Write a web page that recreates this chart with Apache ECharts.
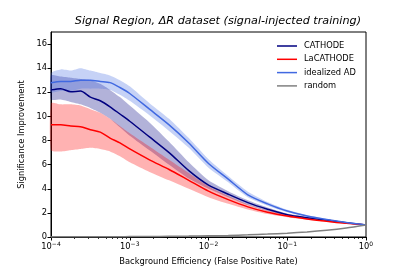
<!DOCTYPE html>
<html><head><meta charset="utf-8">
<script src="https://cdn.jsdelivr.net/npm/echarts@6/dist/echarts.min.js"></script>
<style>html,body{margin:0;padding:0;background:#fff}#c{width:407px;height:271px}</style>
</head><body><div id="c"></div>
<script>
// Background efficiency (x)
const xs = [1e-4, 1.33e-4, 1.78e-4, 2.37e-4, 3.16e-4, 4.22e-4, 5.62e-4, 7.5e-4, 1e-3, 1.78e-3, 3.16e-3, 5.62e-3, 1e-2, 1.78e-2, 3.16e-2, 5.62e-2, 0.1, 0.178, 0.316, 0.562, 1];
const cathode   = [12.2,12.3,12.05,12.1,11.6,11.3,10.8,10.2,9.6,8.3,7.0,5.5,4.3,3.55,2.85,2.3,1.85,1.6,1.4,1.18,1.0];
const cathodeHi = [13.4,13.3,13.2,13.1,13.0,12.7,12.2,11.6,10.9,9.5,7.9,6.2,4.7,3.8,3.05,2.45,1.95,1.68,1.45,1.22,1.0];
const cathodeLo = [11.4,11.4,11.2,11.0,10.7,10.3,9.8,9.1,8.4,7.2,6.0,4.85,4.0,3.3,2.65,2.15,1.75,1.52,1.35,1.14,1.0];
const lacathode = [9.3,9.3,9.2,9.15,8.9,8.7,8.2,7.8,7.3,6.4,5.6,4.7,3.8,3.1,2.5,2.05,1.74,1.5,1.3,1.13,1.0];
const laHi      = [11.1,11.0,11.0,10.9,10.6,10.3,9.8,9.2,8.6,7.5,6.4,5.3,4.2,3.4,2.7,2.2,1.84,1.57,1.35,1.16,1.0];
const laLo      = [7.2,7.1,7.2,7.3,7.4,7.3,7.1,6.7,6.2,5.4,4.7,4.0,3.3,2.75,2.28,1.9,1.64,1.43,1.26,1.1,1.0];
const ideal     = [12.8,12.9,12.9,13.0,13.0,12.9,12.8,12.4,11.9,10.6,9.3,7.8,6.1,4.8,3.5,2.75,2.15,1.75,1.45,1.2,1.0];
const idealHi   = [13.6,13.9,13.8,14.0,13.8,13.6,13.4,13.0,12.5,11.1,9.8,8.2,6.45,5.05,3.75,2.9,2.25,1.82,1.5,1.23,1.0];
const idealLo   = [12.0,12.1,12.1,12.3,12.3,12.3,12.2,11.8,11.3,10.1,8.8,7.4,5.75,4.55,3.3,2.6,2.05,1.68,1.4,1.17,1.0];
const random    = [0.010,0.012,0.013,0.015,0.018,0.021,0.024,0.027,0.032,0.042,0.056,0.075,0.10,0.13,0.18,0.24,0.32,0.42,0.56,0.75,1.0];
const xMajorTicks = [1e-4, 1e-3, 1e-2, 1e-1, 1];
const xMinorTicks = [2e-4,3e-4,4e-4,5e-4,6e-4,7e-4,8e-4,9e-4,2e-3,3e-3,4e-3,5e-3,6e-3,7e-3,8e-3,9e-3,2e-2,3e-2,4e-2,5e-2,6e-2,7e-2,8e-2,9e-2,0.2,0.3,0.4,0.5,0.6,0.7,0.8,0.9];
const yTicks = [0,2,4,6,8,10,12,14,16];
const names = ['CATHODE','LaCATHODE','idealized AD','random'];
const colors = ['#000080','#ff0000','#4169e1','#808080'];
const bandColors = ['rgba(0,0,128,0.3)','rgba(255,0,0,0.3)','rgba(65,105,225,0.3)'];

const FONT = 'DejaVu Sans';
const pair = (arr) => xs.map((x,i)=>[x,arr[i]]);

function band(idx, hi, lo){
  const data = xs.map((x,i)=>[x, hi[i], lo[i]]);
  return {type:'custom', silent:true, z:1, data:data, encode:{x:0, y:[1,2]},
    renderItem:function(params, api){
      if (params.dataIndex !== 0) return null;
      const up = data.map(d=>api.coord([d[0], d[1]]));
      const dn = data.map(d=>api.coord([d[0], d[2]]));
      return {type:'group', children:[
        {type:'polyline', shape:{points:up, smooth:0.25}, style:{fill:null, stroke:null}, invisible:true},
        {type:'polygon', shape:{points:up.concat(dn.slice().reverse()), smooth:0.2}, style:{fill:bandColors[idx], stroke:null}}
      ]};
    }};
}
function line(idx, arr){
  return {name:names[idx], type:'line', data:pair(arr), smooth:0.25, showSymbol:false, lineStyle:{color:colors[idx], width:1.5}, itemStyle:{color:colors[idx]}, z:3};
}
const supLabel = v => { const e = Math.round(Math.log10(v)); return '10{s|' + (e<0 ? '\u2212'+(-e) : e) + '}'; };

const chart = echarts.init(document.getElementById('c'), null, {renderer:'canvas'});
chart.setOption({
  animation:false,
  textStyle:{fontFamily:FONT},
  title:{text:'Signal Region, \u0394R dataset (signal-injected training)', right:41, top:11,
    textStyle:{fontFamily:FONT, fontStyle:'italic', fontWeight:'normal', fontSize:11.2, color:'#000'}},
  grid:{left:51, right:41, top:32, bottom:34, show:true, borderColor:'#000', borderWidth:1, backgroundColor:'transparent'},
  legend:{data:names.map((n,i)=>({name:n, icon:'rect', itemStyle:{color:colors[i]}})), orient:'vertical', left:272, top:37,
    itemWidth:20, itemHeight:1.5, itemGap:5.3, textStyle:{fontFamily:FONT, fontSize:8.3, color:'#000', padding:[0,0,0,2]}},
  xAxis:[
    {type:'log', logBase:10, min:1e-4, max:1, gridIndex:0,
      axisLine:{show:true, lineStyle:{color:'#000', width:1}},
      axisTick:{show:true, length:3.5, lineStyle:{color:'#000'}, customValues:xMajorTicks},
      axisLabel:{color:'#000', fontFamily:FONT, fontSize:8.3, margin:4, customValues:xMajorTicks, formatter:supLabel,
        rich:{s:{fontSize:6, fontFamily:FONT, color:'#000', padding:[0,0,5,0]}}},
      splitLine:{show:false},
      name:'Background Efficiency (False Positive Rate)', nameLocation:'middle', nameGap:21,
      nameTextStyle:{fontFamily:FONT, fontSize:8.3, color:'#000'}},
    {type:'log', logBase:10, min:1e-4, max:1, gridIndex:0, position:'bottom',
      axisLine:{show:false}, axisLabel:{show:false}, splitLine:{show:false},
      axisTick:{show:true, length:2, lineStyle:{color:'#000', width:0.8}, customValues:xMinorTicks}}
  ],
  yAxis:{type:'value', min:0, max:17, interval:2,
    axisLine:{show:true, lineStyle:{color:'#000', width:1}},
    axisTick:{show:true, length:3.5, lineStyle:{color:'#000'}, customValues:yTicks},
    axisLabel:{color:'#000', fontFamily:FONT, fontSize:8.3, margin:4, customValues:yTicks},
    splitLine:{show:false},
    name:'Significance Improvement', nameLocation:'middle', nameGap:24,
    nameTextStyle:{fontFamily:FONT, fontSize:8.3, color:'#000'}},
  series:[
    band(0, cathodeHi, cathodeLo),
    band(1, laHi, laLo),
    band(2, idealHi, idealLo),
    line(0, cathode), line(1, lacathode), line(2, ideal), line(3, random)
  ]
});
</script></body></html>
